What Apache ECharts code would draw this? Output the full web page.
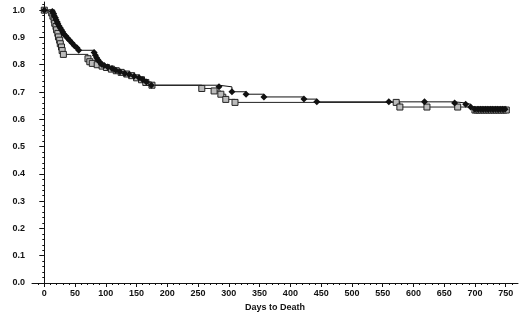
<!DOCTYPE html>
<html>
<head>
<meta charset="utf-8">
<title>Survival</title>
<script src="https://cdn.jsdelivr.net/npm/echarts@6/dist/echarts.min.js"></script>
<style>
	html, body { margin: 0; padding: 0; background: #fff; }
	#main { width: 520px; height: 313px; }
</style>
</head>
<body>
<div id="main"></div>
<script>
// group drawn with filled diamonds
var daysA = [0, 13, 15, 16, 18, 19, 21, 22, 24, 26, 28, 30, 32, 35, 38, 41, 45, 49, 53, 56,
	81, 83, 85, 87, 90, 93, 97, 103, 110, 116, 123, 131, 138, 146, 154, 160, 166, 174,
	284, 305, 328, 357, 422, 443, 560, 618, 667, 685, 693, 700,
	705, 709, 713, 717, 721, 725, 729, 733, 737, 741, 745, 749];
var survA = [1.0, 0.995, 0.988, 0.98, 0.972, 0.965, 0.957, 0.95, 0.942, 0.935, 0.927, 0.92, 0.912, 0.905, 0.897, 0.89, 0.88, 0.87, 0.862, 0.853,
	0.845, 0.835, 0.826, 0.818, 0.81, 0.802, 0.797, 0.792, 0.786, 0.78, 0.774, 0.768, 0.764, 0.758, 0.752, 0.745, 0.737, 0.725,
	0.719, 0.701, 0.692, 0.682, 0.674, 0.664, 0.664, 0.664, 0.66, 0.655, 0.645, 0.637,
	0.637, 0.637, 0.637, 0.637, 0.637, 0.637, 0.637, 0.637, 0.637, 0.637, 0.637, 0.637];

// group drawn with open squares
var daysB = [0, 12, 14, 16, 17, 19, 20, 22, 23, 25, 26, 28, 29, 31,
	71, 74, 78, 86, 94, 101, 109, 117, 125, 134, 142, 150, 158, 165, 175,
	256, 276, 287, 295, 310, 572, 578, 622, 672, 700,
	703, 707, 711, 715, 719, 723, 727, 731, 735, 739, 743, 747, 751];
var survB = [1.0, 0.99, 0.978, 0.965, 0.952, 0.94, 0.928, 0.915, 0.902, 0.89, 0.877, 0.865, 0.852, 0.838,
	0.822, 0.811, 0.805, 0.8, 0.795, 0.79, 0.784, 0.778, 0.772, 0.766, 0.76, 0.752, 0.745, 0.735, 0.725,
	0.713, 0.704, 0.692, 0.673, 0.662, 0.662, 0.645, 0.645, 0.645, 0.634,
	0.634, 0.634, 0.634, 0.634, 0.634, 0.634, 0.634, 0.634, 0.634, 0.634, 0.634, 0.634, 0.634];

var xTicks = [0, 50, 100, 150, 200, 250, 300, 350, 400, 450, 500, 550, 600, 650, 700, 750];
var yTicks = [0, 0.1, 0.2, 0.3, 0.4, 0.5, 0.6, 0.7, 0.8, 0.9, 1.0];

var xMinor = [];
for (var i = -10; i <= 760; i += 10) xMinor.push(i);
var yMinor = [];
for (var j = 0; j <= 102; j += 2) yMinor.push(j / 100);

function pairs(d, s) {
	var out = [];
	for (var k = 0; k < d.length; k++) out.push([d[k], s[k]]);
	return out;
}

var font = 'Liberation Sans';
var myChart = echarts.init(document.getElementById('main'));
var option = {
	animation: false,
	textStyle: { fontFamily: font },
	grid: { left: 32, right: 2, top: 2, bottom: 30, containLabel: false, outerBoundsMode: 'none' },
	xAxis: [{
		type: 'value', min: -20, max: 770,
		name: 'Days to Death', nameLocation: 'middle', nameGap: 18,
		nameTextStyle: { fontSize: 9, fontWeight: 'bold', color: '#111', fontFamily: font },
		axisLine: { lineStyle: { color: '#111', width: 1 } },
		axisTick: { customValues: xTicks, length: 4, lineStyle: { color: '#111' } },
		axisLabel: { customValues: xTicks, fontSize: 9, fontWeight: 'bold', color: '#111', margin: 6, fontFamily: font },
		splitLine: { show: false }
	}, {
		type: 'value', min: -20, max: 770, position: 'bottom',
		axisLine: { show: false },
		axisTick: { customValues: xMinor, length: 2, lineStyle: { color: '#111' } },
		axisLabel: { show: false },
		splitLine: { show: false }
	}],
	yAxis: [{
		type: 'value', min: 0, max: 1.03,
		name: 'Survival Rate', nameLocation: 'middle', nameGap: 21, nameRotate: 90,
		nameTextStyle: { fontSize: 9, fontWeight: 'bold', color: '#111', fontFamily: font },
		axisLine: { show: true, lineStyle: { color: '#111', width: 1 } },
		axisTick: { show: true, customValues: yTicks, length: 5, lineStyle: { color: '#111' } },
		axisLabel: { customValues: yTicks, fontSize: 9, fontWeight: 'bold', color: '#111', margin: 7, fontFamily: font,
			formatter: function (v) { return v.toFixed(1); } },
		splitLine: { show: false }
	}, {
		type: 'value', min: 0, max: 1.03, position: 'left',
		axisLine: { show: false },
		axisTick: { show: true, customValues: yMinor, length: 2, lineStyle: { color: '#111' } },
		axisLabel: { show: false },
		splitLine: { show: false }
	}],
	series: [{
		name: 'B', type: 'line', step: 'end',
		data: pairs(daysB, survB),
		symbol: 'rect', symbolSize: 6, showAllSymbol: true,
		lineStyle: { color: '#222', width: 1 },
		itemStyle: { color: '#bbb', borderColor: '#222', borderWidth: 1 }
	}, {
		name: 'A', type: 'line', step: 'end',
		data: pairs(daysA, survA),
		symbol: 'diamond', symbolSize: 7, showAllSymbol: true,
		lineStyle: { color: '#111', width: 1 },
		itemStyle: { color: '#111', borderColor: '#111', borderWidth: 0 }
	}]
};
myChart.setOption(option);
</script>
</body>
</html>
